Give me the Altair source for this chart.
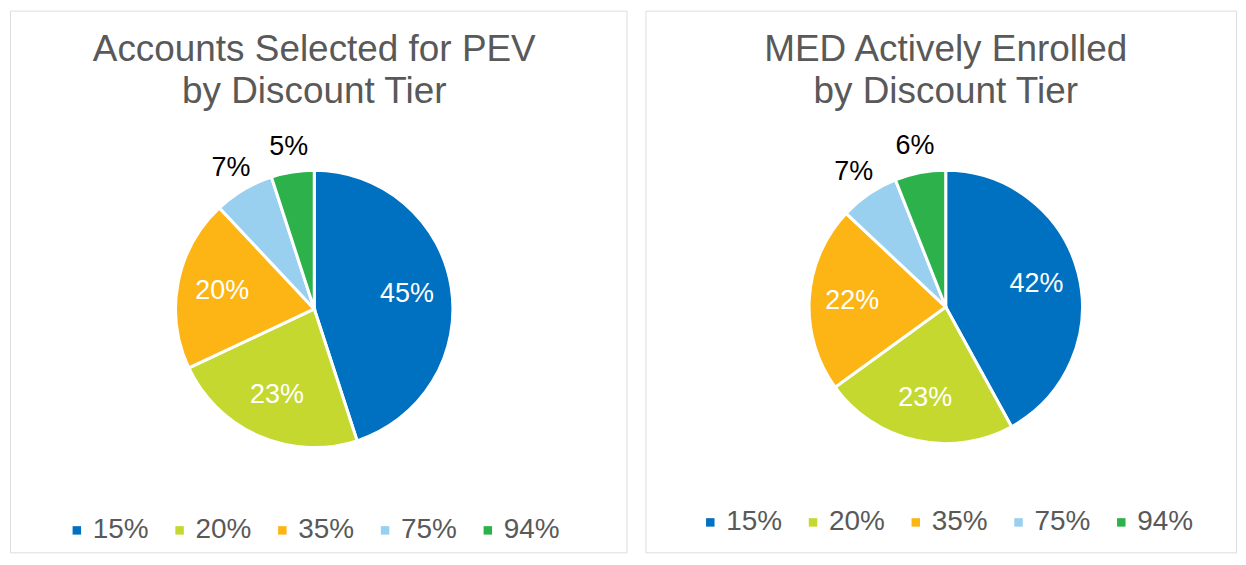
import altair as alt
import pandas as pd

tiers = ["15%", "20%", "35%", "75%", "94%"]
pev_values = [45, 23, 20, 7, 5]
med_values = [42, 23, 22, 7, 6]
colors = ["#0070C0", "#C5D82F", "#FDB515", "#99CFEF", "#2DB24B"]
pev_title = ["Accounts Selected for PEV", "by Discount Tier"]
med_title = ["MED Actively Enrolled", "by Discount Tier"]

FONT = "Liberation Sans"
GRAY = "#595959"


def panel(values, title, w, h, cx, cy, r, lx, ly):
    df = pd.DataFrame({
        "tier": tiers,
        "value": values,
        "idx": list(range(len(tiers))),
        "label": [f"{v}%" for v in values],
    })
    base = alt.Chart(df).encode(
        theta=alt.Theta("value:Q", stack=True),
        order=alt.Order("idx:Q"),
    )
    arcs = base.mark_arc(radius=r, stroke="white", strokeWidth=3).encode(
        x=alt.value(cx),
        y=alt.value(cy),
        color=alt.Color(
            "tier:N",
            scale=alt.Scale(domain=tiers, range=colors),
            legend=alt.Legend(
                title=None,
                orient="none",
                direction="horizontal",
                columns=5,
                legendX=lx,
                legendY=ly,
                symbolType="square",
                symbolSize=72,
                symbolStrokeWidth=0,
                labelFont=FONT,
                labelFontSize=28,
                labelColor=GRAY,
                labelOffset=2,
                columnPadding=16,
            ),
        ),
    )
    inner = base.mark_text(radius=94, font=FONT, fontSize=27, color="white").encode(
        x=alt.value(cx),
        y=alt.value(cy),
        text=alt.condition(alt.datum.value >= 10, alt.Text("label:N"), alt.value("")),
    )
    outer = base.mark_text(radius=164, font=FONT, fontSize=27, color="black").encode(
        x=alt.value(cx),
        y=alt.value(cy),
        text=alt.condition(alt.datum.value < 10, alt.Text("label:N"), alt.value("")),
    )
    tdf = pd.DataFrame({"title": ["\n".join(title)]})
    ttl = alt.Chart(tdf).mark_text(
        font=FONT, fontSize=37, color=GRAY, lineHeight=43, lineBreak="\n",
        baseline="alphabetic", align="center",
    ).encode(text="title:N", x=alt.value(cx), y=alt.value(50))
    return alt.layer(arcs, inner, outer, ttl).properties(width=w, height=h)


left = panel(pev_values, pev_title, 618, 543, 305, 299, 139, 53, 507)
right = panel(med_values, med_title, 592, 543, 301, 297, 137, 51, 499)

chart = (
    alt.hconcat(left, right, spacing=17)
    .resolve_scale(color="independent", theta="independent")
    .resolve_legend(color="independent")
    .properties(padding={"left": 1, "top": 1, "right": 1, "bottom": 1})
    .configure_view(stroke="#D9D9D9", strokeWidth=2)
    .configure(background="white")
)

chart.save("out.html", embed_options={"renderer": "svg", "actions": False})
